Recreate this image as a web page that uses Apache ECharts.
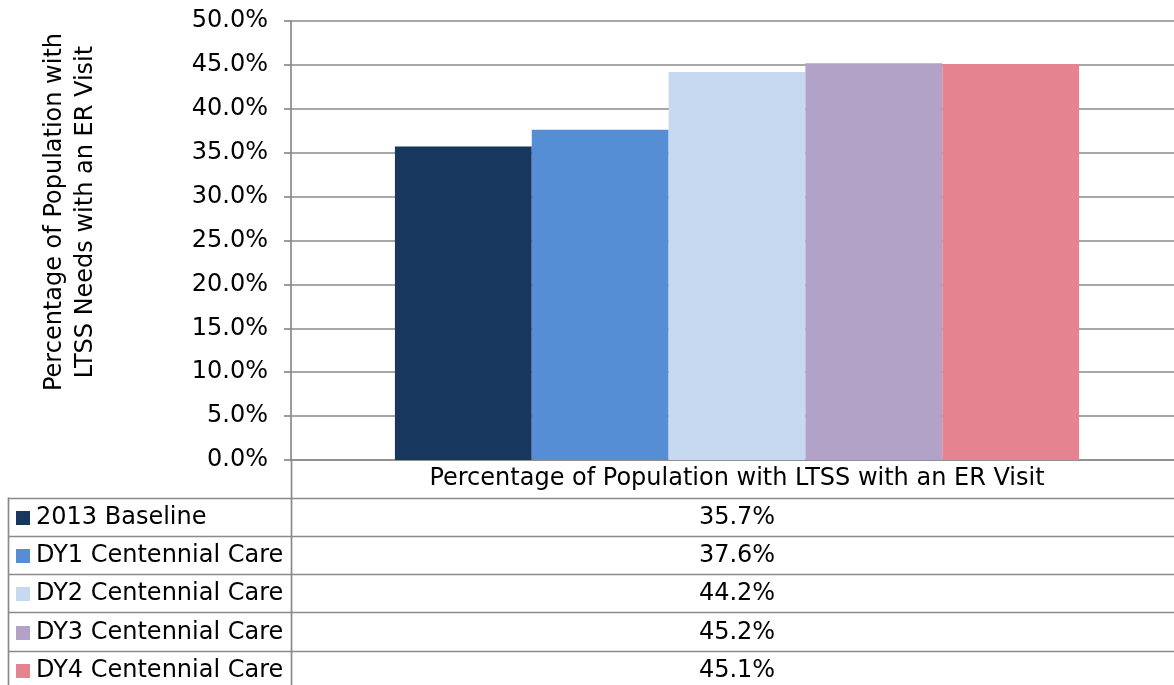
<!DOCTYPE html>
<html>
<head>
<meta charset="utf-8">
<script src="https://cdn.jsdelivr.net/npm/echarts@6/dist/echarts.min.js"></script>
<style>
html,body{margin:0;padding:0;background:#fff;overflow:hidden;width:1174px;height:685px;}
#chart{width:1183px;height:685px;}
</style>
</head>
<body>
<div id="chart"></div>
<script>
// ---- data ----
const categories = ['Percentage of Population with LTSS with an ER Visit'];
const seriesNames = ['2013 Baseline','DY1 Centennial Care','DY2 Centennial Care','DY3 Centennial Care','DY4 Centennial Care'];
const seriesValues = [35.7, 37.6, 44.2, 45.2, 45.1];
const seriesColors = ['#17375E','#558ED5','#C6D9F1','#B3A2C7','#E58490'];
const yTitleLines = ['Percentage of Population with','LTSS Needs with an ER Visit'];
const yMin = 0, yMax = 50, yStep = 5;

// ---- layout ----
const W = 1183, H = 685;   // plot area runs slightly past the visible right edge
const plotLeft = 291, plotTop = 21, plotBottom = 460;
const tableLeft = 8;
const headerH = 37.5;
const rowH = 38.3;
const lineColor = '#8a8a8a';
const FONT = '"DejaVu Sans", Verdana, sans-serif';
const FS = 24;

const chart = echarts.init(document.getElementById('chart'));

const series = seriesNames.map((name, i) => ({
  name: name,
  type: 'bar',
  data: [seriesValues[i]],
  itemStyle: { color: seriesColors[i] },
  barGap: '0%',
  barCategoryGap: '23.3%'
}));

const graphics = [];
// y-axis title
graphics.push({
  type: 'text',
  x: 70, y: 212,
  rotation: Math.PI / 2,
  style: {
    text: yTitleLines.join('\n'),
    font: FS + 'px ' + FONT,
    fill: '#000',
    textAlign: 'center',
    textVerticalAlign: 'middle',
    lineHeight: 31
  }
});
// table lines
const tableTop = plotBottom + headerH;
const nRows = seriesNames.length;
for (let r = 0; r <= nRows; r++) {
  const y = Math.round(tableTop + r * rowH) + 0.5;
  graphics.push({ type: 'line', shape: { x1: tableLeft, y1: y, x2: W, y2: y }, style: { stroke: lineColor, lineWidth: 1.7 } });
}
graphics.push({ type: 'line', shape: { x1: tableLeft + 0.5, y1: tableTop, x2: tableLeft + 0.5, y2: H }, style: { stroke: lineColor, lineWidth: 1.7 } });
graphics.push({ type: 'line', shape: { x1: plotLeft + 0.5, y1: plotBottom, x2: plotLeft + 0.5, y2: H }, style: { stroke: lineColor, lineWidth: 1.7 } });
// legend keys + table values
const valueCenterX = (plotLeft + W) / 2;
seriesValues.forEach((v, i) => {
  const cy = tableTop + (i + 0.5) * rowH + 1;
  graphics.push({
    type: 'rect',
    shape: { x: 16, y: Math.round(cy - 7), width: 14, height: 14 },
    style: { fill: seriesColors[i] }
  });
  graphics.push({
    type: 'text',
    x: 36, y: cy,
    style: {
      text: seriesNames[i],
      font: FS + 'px ' + FONT,
      fill: '#000',
      textAlign: 'left',
      textVerticalAlign: 'middle'
    }
  });
  graphics.push({
    type: 'text',
    x: valueCenterX,
    y: cy,
    style: {
      text: v.toFixed(1) + '%',
      font: FS + 'px ' + FONT,
      fill: '#000',
      textAlign: 'center',
      textVerticalAlign: 'middle'
    }
  });
});

const option = {
  backgroundColor: '#fff',
  animation: false,
  textStyle: { fontFamily: FONT },
  grid: { left: plotLeft, right: 0, top: plotTop, bottom: H - plotBottom, containLabel: false },
  legend: { show: false, data: seriesNames },
  xAxis: {
    type: 'category',
    data: categories,
    axisLine: { show: true, lineStyle: { color: lineColor, width: 1.7 } },
    axisTick: { show: false },
    axisLabel: { fontSize: FS, fontFamily: FONT, color: '#000', margin: 7, lineHeight: 24 }
  },
  yAxis: {
    type: 'value',
    min: yMin, max: yMax, interval: yStep,
    axisLine: { show: true, lineStyle: { color: lineColor, width: 1.7 } },
    axisTick: { show: true, length: 7, lineStyle: { color: lineColor, width: 1.7 } },
    axisLabel: { fontSize: FS, fontFamily: FONT, color: '#000', margin: 23, formatter: v => v.toFixed(1) + '%' },
    splitLine: { show: true, lineStyle: { color: lineColor, width: 1.7 } }
  },
  series: series,
  graphic: graphics
};
chart.setOption(option);
</script>
</body>
</html>
